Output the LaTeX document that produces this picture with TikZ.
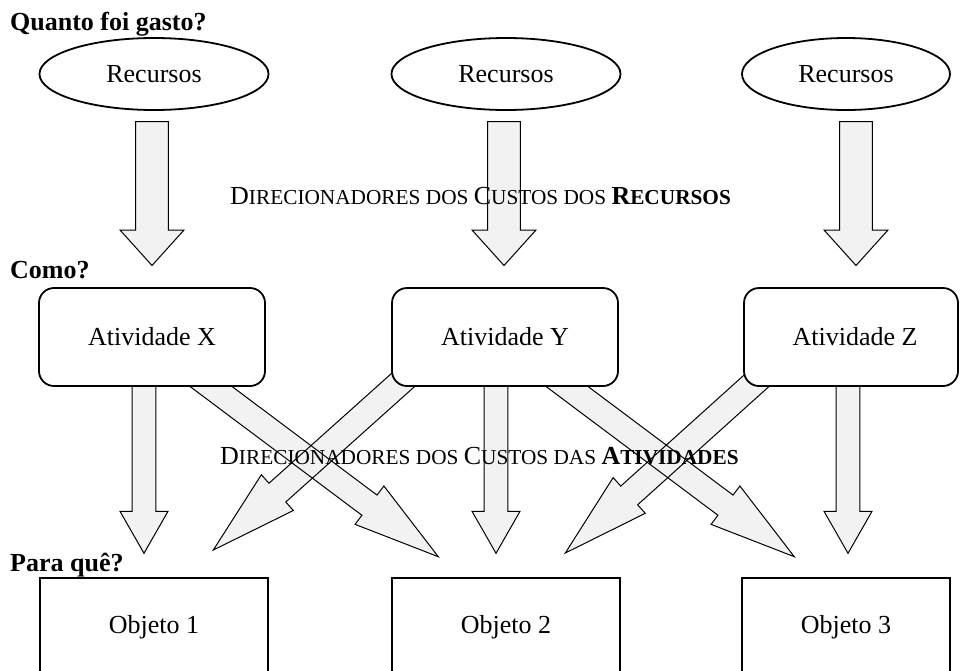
\documentclass[tikz,border=0pt]{standalone}
\usepackage{fontspec}
\setmainfont{Liberation Serif}
\usetikzlibrary{calc,shapes.geometric}
\definecolor{arrowgray}{RGB}{242,242,242}

% block arrow: style, tail, tip, shaft half width, head half width, head length
\newcommand\blockarr[6]{%
  \coordinate (hb) at ($(#3)!#6!(#2)$);
  \path[#1] ($(#2)!#4!90:(#3)$) -- ($(hb)!#4!90:(#3)$) -- ($(hb)!#5!90:(#3)$)
    -- (#3) -- ($(hb)!#5!-90:(#3)$) -- ($(hb)!#4!-90:(#3)$) -- ($(#2)!#4!-90:(#3)$) -- cycle;}
\newcommand\smallcap[1]{{\fontsize{21.3}{24}\selectfont #1}}

\tikzset{
  arrfill/.style={fill=arrowgray},
  arrline/.style={draw=black, line width=1pt, line join=miter},
  res/.style={ellipse, draw, line width=1.8pt, minimum width=229pt, minimum height=72pt,
    inner sep=0pt, fill=white, font=\fontsize{26}{30}\selectfont},
  act/.style={draw, line width=1.8pt, rounded corners=15pt, minimum width=226pt,
    minimum height=98pt, inner sep=0pt, fill=white, font=\fontsize{26}{30}\selectfont},
  obj/.style={draw, line width=1.8pt, minimum width=228pt, minimum height=98pt,
    inner sep=0pt, fill=white, font=\fontsize{26}{30}\selectfont},
  ask/.style={font=\fontsize{26}{30}\selectfont\bfseries, anchor=base west, inner sep=0pt},
  driver/.style={font=\fontsize{26}{30}\selectfont, anchor=base west, inner sep=0pt},
}

\begin{document}
\begin{tikzpicture}[x=1pt, y=-1pt]
\useasboundingbox (0,0) rectangle (960,670);
\clip (0,0) rectangle (960,670);

% arrow end points
\coordinate (ra1) at (152,121.7); \coordinate (rb1) at (152,265.5);
\coordinate (ra2) at (504,121.7); \coordinate (rb2) at (504,265.5);
\coordinate (ra3) at (856,121.7); \coordinate (rb3) at (856,265.5);
\coordinate (va1) at (144,380);   \coordinate (vb1) at (144,553.3);
\coordinate (va2) at (496,380);   \coordinate (vb2) at (496,553.3);
\coordinate (va3) at (848,380);   \coordinate (vb3) at (848,553.3);
\coordinate (da1) at (189,370);   \coordinate (db1) at (438.3,556.7);
\coordinate (da2) at (545,370);   \coordinate (db2) at (794.3,556.7);
\coordinate (la2) at (419.8,365); \coordinate (lb2) at (213.3,550);
\coordinate (la3) at (771.8,367); \coordinate (lb3) at (565.3,553);

% fills first, outlines after, so every crossing edge stays visible
\foreach \st in {arrfill,arrline}{
  \blockarr{\st}{ra1}{rb1}{16.3pt}{32pt}{35.5pt}
  \blockarr{\st}{ra2}{rb2}{16.3pt}{32pt}{35.5pt}
  \blockarr{\st}{ra3}{rb3}{16.3pt}{32pt}{35.5pt}
  \blockarr{\st}{va1}{vb1}{11.8pt}{24pt}{42pt}
  \blockarr{\st}{va2}{vb2}{11.8pt}{24pt}{42pt}
  \blockarr{\st}{va3}{vb3}{11.8pt}{24pt}{42pt}
  \blockarr{\st}{da1}{db1}{12.6pt}{24pt}{86pt}
  \blockarr{\st}{da2}{db2}{12.6pt}{24pt}{86pt}
  \blockarr{\st}{la2}{lb2}{12.6pt}{24pt}{86pt}
  \blockarr{\st}{la3}{lb3}{12.6pt}{24pt}{86pt}
}

% resources
\node[res] (r1) at (154,74) {Recursos};
\node[res] (r2) at (506,74) {Recursos};
\node[res, minimum width=208pt] (r3) at (846,74) {Recursos};

% activities
\node[act] (ax) at (152,337) {Atividade X};
\node[act] (ay) at (505,337) {Atividade Y};
\node[act, minimum width=214pt] (az) at (851,337) {\hspace*{8pt}Atividade Z};

% cost objects
\node[obj] (o1) at (154,627) {Objeto 1};
\node[obj] (o2) at (506,627) {Objeto 2};
\node[obj, minimum width=208pt] (o3) at (846,627) {Objeto 3};

% questions
\node[ask] (q1) at (10,30) {Quanto foi gasto?};
\node[ask] (q2) at (10,278) {Como?};
\node[ask] (q3) at (10,571) {Para quê?};

% cost drivers
\node[driver] (d1) at (230,204)
  {D\smallcap{IRECIONADORES DOS }C\smallcap{USTOS DOS }\textbf{R\smallcap{ECURSOS}}};
\node[driver] (d2) at (220,464)
  {D\smallcap{IRECIONADORES DOS }C\smallcap{USTOS DAS }\textbf{A\smallcap{TIVIDADES}}};
\end{tikzpicture}
\end{document}
